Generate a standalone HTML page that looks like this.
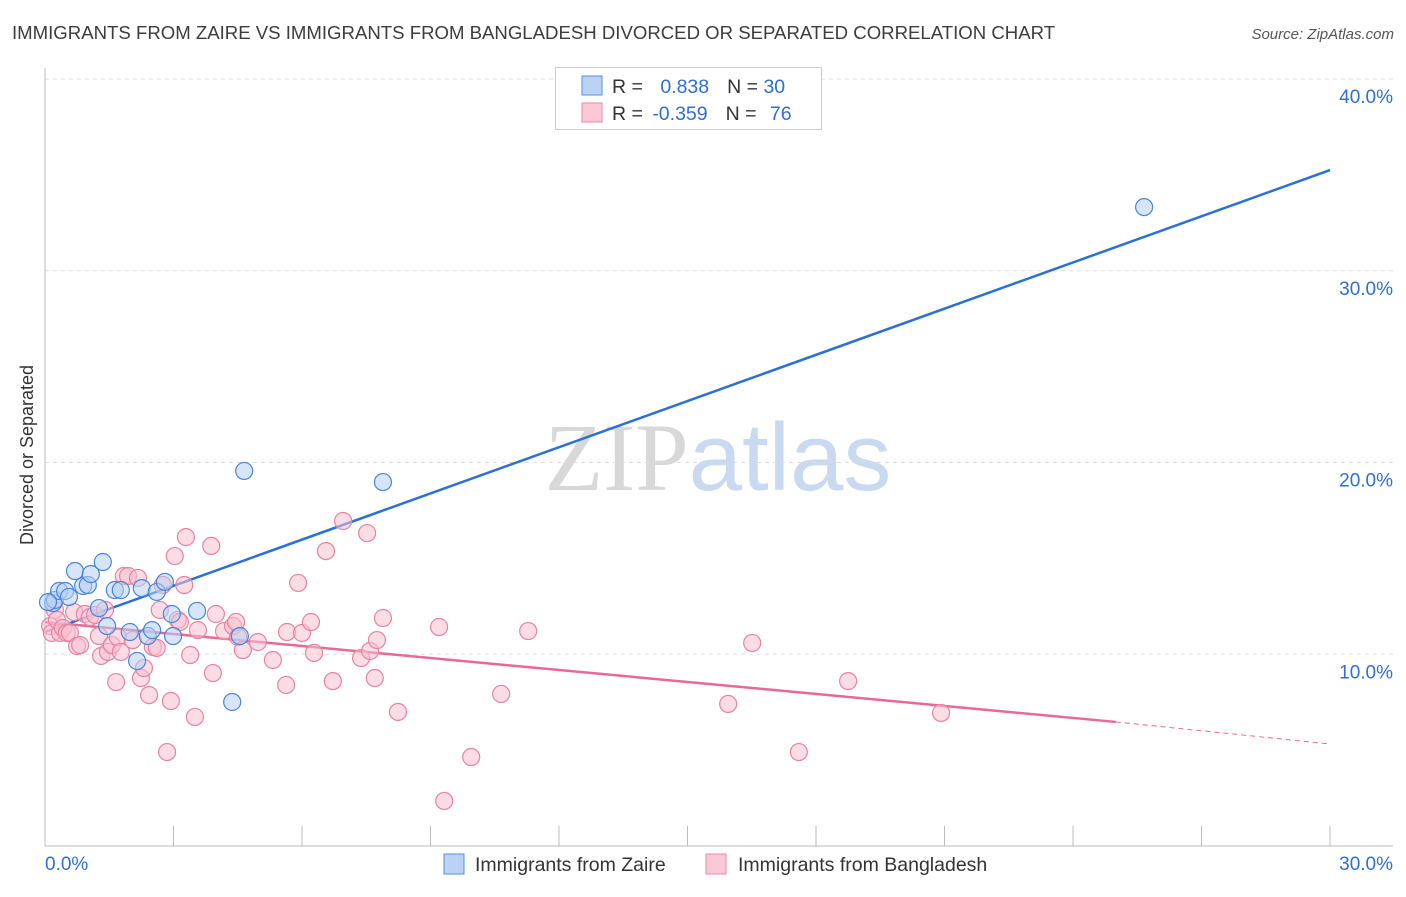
<!DOCTYPE html>
<html><head><meta charset="utf-8"><style>
body{margin:0;background:#fff;font-family:"Liberation Sans",sans-serif}
svg text{font-family:"Liberation Sans",sans-serif}
</style></head><body>
<svg id="chart" width="1406" height="892" xmlns="http://www.w3.org/2000/svg">
<text x="12" y="39" font-size="18.6" fill="#3c3c3c">IMMIGRANTS FROM ZAIRE VS IMMIGRANTS FROM BANGLADESH DIVORCED OR SEPARATED CORRELATION CHART</text>
<text x="1394" y="39" font-size="15" fill="#555" text-anchor="end" font-style="italic">Source: ZipAtlas.com</text>
<text x="718" y="490" font-size="96" text-anchor="middle"><tspan fill="#d8d8d8" font-family="Liberation Serif">ZIP</tspan><tspan fill="#c9daf0">atlas</tspan></text>
<text transform="translate(33,455) rotate(-90)" font-size="18" fill="#333" text-anchor="middle">Divorced or Separated</text>
<g id="grid"></g><g id="axes"></g><g id="trend"></g><g id="pts"></g>
<g>
<rect x="555.5" y="67.5" width="266" height="62" fill="#fff" stroke="#ccc"/>
<rect x="582" y="76" width="20" height="19" fill="#bad3f5" stroke="#5b8fd9"/>
<rect x="582" y="103" width="20" height="19" fill="#fbc8d6" stroke="#e98aa6"/>
<text x="612" y="93" font-size="19.5" fill="#333">R = <tspan fill="#2f6fd1" dx="12">0.838</tspan><tspan dx="18">N = </tspan><tspan fill="#2f6fd1">30</tspan></text>
<text x="612" y="120" font-size="19.5" fill="#333">R = <tspan fill="#2f6fd1" dx="4">-0.359</tspan><tspan dx="18">N = </tspan><tspan fill="#2f6fd1" dx="8">76</tspan></text>
</g>
<g>
<rect x="444" y="854" width="20" height="20" fill="#bad3f5" stroke="#5b8fd9"/>
<text x="475" y="871" font-size="19.5" fill="#333">Immigrants from Zaire</text>
<rect x="706" y="854" width="20" height="20" fill="#fbc8d6" stroke="#e98aa6"/>
<text x="738" y="871" font-size="19.5" fill="#333">Immigrants from Bangladesh</text>
</g>
</svg>
<script>
const xTicks=[0,3,6,9,12,15,18,21,24,27,30];
const yTicks=[10,20,30,40];
const yTickLabels=["10.0%","20.0%","30.0%","40.0%"];
const xLabels=["0.0%","30.0%"];
const zaireX=[0.19,0.23,0.33,0.47,0.56,0.70,0.89,1.00,1.07,1.35,1.26,1.45,1.63,1.77,1.98,2.15,2.26,2.40,2.50,2.61,2.80,2.96,2.99,3.55,4.37,4.55,4.65,7.89,25.66,0.07];
const zaireY=[12.67,12.83,13.30,13.30,12.99,14.34,13.56,13.61,14.18,14.81,12.41,11.47,13.35,13.35,11.16,9.65,13.45,10.95,11.26,13.25,13.77,12.10,10.95,12.26,7.51,10.95,19.56,18.98,33.32,12.72];
const bangX=[0.12,0.16,0.23,0.28,0.35,0.42,0.51,0.58,0.68,0.75,0.82,0.93,1.05,1.17,1.26,1.31,1.40,1.47,1.56,1.66,1.70,1.77,1.84,1.94,2.05,2.17,2.24,2.31,2.43,2.52,2.61,2.68,2.75,2.85,2.94,3.03,3.10,3.15,3.25,3.29,3.39,3.50,3.57,3.88,3.92,3.99,4.18,4.39,4.46,4.51,4.62,4.97,5.32,5.63,5.65,5.91,6.00,6.21,6.28,6.56,6.72,6.96,7.38,7.52,7.59,7.70,7.75,7.89,8.24,9.20,9.32,9.95,10.65,11.28,15.95,16.51,17.60,18.75,20.92];
const bangY=[11.47,11.11,12.31,11.79,11.11,11.37,11.11,11.11,12.20,10.43,10.48,12.10,11.94,12.05,10.95,9.91,12.31,10.12,10.48,8.55,10.90,10.12,14.08,14.08,10.74,13.98,8.76,9.28,7.87,10.38,10.33,12.31,13.61,4.90,7.56,15.12,11.79,11.68,13.61,16.11,9.96,6.73,11.26,15.65,9.02,12.10,11.21,11.47,11.68,10.90,10.22,10.64,9.70,8.40,11.16,13.72,11.11,11.68,10.07,15.38,8.60,16.95,9.80,16.32,10.17,8.76,10.74,11.89,6.99,11.42,2.35,4.64,7.93,11.21,7.41,10.59,4.90,8.60,6.94];
const zaireTrend=[[0,11.16],[30,35.25]];
const bangTrend=[[0,11.68],[25,6.47],[30,5.32]];
const NS="http://www.w3.org/2000/svg";
const X=v=>45+v/30*1285, Y=v=>846-v/10*191.75;
function mk(t,a,p){const e=document.createElementNS(NS,t);for(const k in a)e.setAttribute(k,a[k]);p.appendChild(e);return e;}
const grid=document.getElementById('grid'),axes=document.getElementById('axes'),tr=document.getElementById('trend'),pts=document.getElementById('pts');
yTicks.forEach((t,i)=>{
 const l=mk('line',{x1:45,x2:1393,y1:Y(t),y2:Y(t),stroke:'#ddd','stroke-dasharray':'4,4'},grid);
 
 
 const tx=mk('text',{x:1393,y:Y(t)+24,'font-size':19,fill:'#2f6fd1','text-anchor':'end'},axes);
 tx.textContent=yTickLabels[i];
 
 
});
const topGrid=mk('line',{x1:45,x2:1393,y1:79,y2:79,stroke:'#ddd','stroke-dasharray':'4,4'},grid);


const ya=mk('line',{x1:45,x2:45,y1:68,y2:846,stroke:'#bbb'},axes);


const xa=mk('line',{x1:45,x2:1393,y1:846,y2:846,stroke:'#bbb'},axes);


xTicks.forEach(t=>{
 const l=mk('line',{x1:X(t),x2:X(t),y1:826,y2:846,stroke:'#bbb'},axes);
 
 
});
[[0,'start',45],[30,'end',1393]].forEach((d,i)=>{
 const tx=mk('text',{x:d[2],y:870,'font-size':19,fill:'#2f6fd1','text-anchor':d[1]},axes);
 tx.textContent=xLabels[i];
 
 
});
function dots(xs,ys,fill,stroke,name){xs.forEach((x,i)=>{
 const c=mk('circle',{cx:X(x),cy:Y(ys[i]),r:8.5,fill:fill,'fill-opacity':0.55,stroke:stroke,'stroke-width':1.2},pts);
 
 
});}
dots(bangX,bangY,'#f9c0d0','#e883a2','point-bangladesh');
dots(zaireX,zaireY,'#b5cff3','#4a86d8','point-zaire');
const bl=mk('line',{x1:X(zaireTrend[0][0]),y1:Y(zaireTrend[0][1]),x2:X(zaireTrend[1][0]),y2:Y(zaireTrend[1][1]),stroke:'#2b70d6','stroke-width':2.5},tr);


const pl=mk('line',{x1:X(bangTrend[0][0]),y1:Y(bangTrend[0][1]),x2:X(bangTrend[1][0]),y2:Y(bangTrend[1][1]),stroke:'#e8689a','stroke-width':2.5},tr);


const pd=mk('line',{x1:X(bangTrend[1][0]),y1:Y(bangTrend[1][1]),x2:X(bangTrend[2][0]),y2:Y(bangTrend[2][1]),stroke:'#e8689a','stroke-width':1,'stroke-dasharray':'5,4'},tr);


</script>
</body></html>
